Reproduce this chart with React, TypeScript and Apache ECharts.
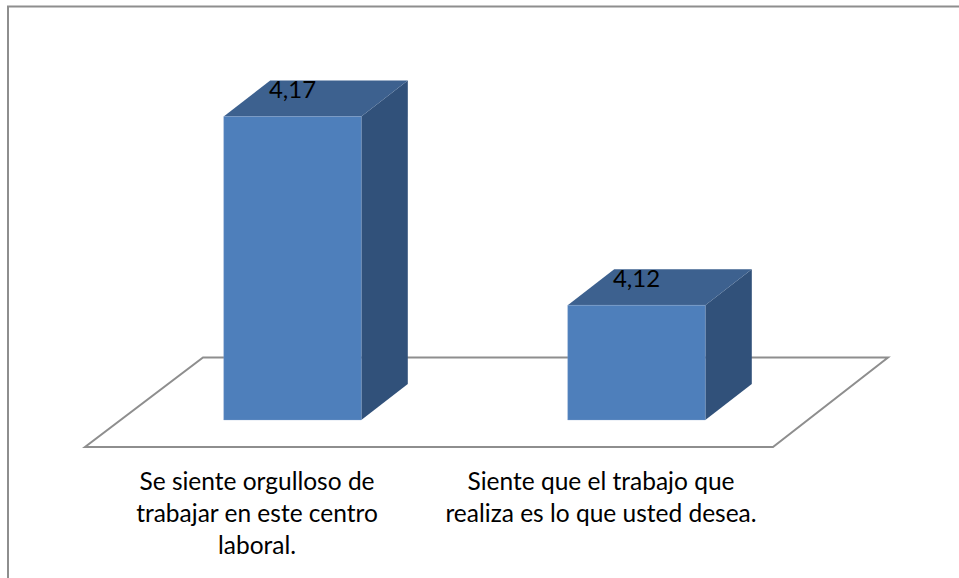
import React, { useEffect, useRef } from "react";
import * as echarts from "echarts";

const categories = [
  "Se siente orgulloso de\ntrabajar en este centro\nlaboral.",
  "Siente que el trabajo que\nrealiza es lo que usted desea.",
];
const values = [4.17, 4.12];

const FONT = "Lato, Carlito, 'Open Sans', sans-serif";

export default function App() {
  const ref = useRef<HTMLDivElement>(null);
  useEffect(() => {
    const chart = echarts.init(ref.current!, undefined, { renderer: "svg" });
    const depthX = 46.5;
    const depthY = 36;
    const shift = 35.5;
    chart.setOption({
      animation: false,
      backgroundColor: "#ffffff",
      grid: { left: 85, width: 688, top: 41, height: 379 },
      xAxis: {
        type: "category",
        data: categories,
        axisLine: { show: false },
        axisTick: { show: false },
        axisLabel: {
          interval: 0,
          margin: 44,
          color: "#000000",
          fontFamily: FONT,
          fontSize: 24.5,
          lineHeight: 32,
          align: "center",
        },
      },
      yAxis: { type: "value", min: 4.0896, max: 4.19, show: false },
      graphic: [
        {
          type: "polygon",
          z: 0,
          shape: { points: [[85, 447], [773, 447], [888, 357.5], [203, 357.5]] },
          style: { fill: "#ffffff", stroke: "#8e8e8e", lineWidth: 2 },
        },
        {
          type: "polyline",
          z: 0,
          shape: { points: [[8, 578], [8, 6.5], [959, 6.5]] },
          style: { fill: "none", stroke: "#8e8e8e", lineWidth: 2 },
        },
      ],
      series: [
        {
          type: "custom",
          z: 5,
          coordinateSystem: "cartesian2d",
          data: values.map((v, i) => [i, v]),
          clip: false,
          renderItem: (_p: any, api: any) => {
            const cat = api.value(0);
            const val = api.value(1);
            const top = api.coord([cat, val]);
            const base = api.coord([cat, 4.0896]);
            const w = api.size([1, 0])[0] * 0.4;
            const l = top[0] + shift - w / 2;
            const r = l + w;
            const t = top[1];
            const b = base[1];
            return {
              type: "group",
              children: [
                {
                  type: "polygon",
                  shape: { points: [[r, t], [r + depthX, t - depthY], [r + depthX, b - depthY], [r, b]] },
                  style: { fill: "#31517a" },
                },
                {
                  type: "polygon",
                  shape: { points: [[l, t], [l + depthX, t - depthY], [r + depthX, t - depthY], [r, t]] },
                  style: { fill: "#3d618f" },
                },
                {
                  type: "rect",
                  shape: { x: l, y: t, width: w, height: b - t },
                  style: { fill: "#4e7fbb", stroke: "rgba(140,170,210,0.3)", lineWidth: 1 },
                },
                {
                  type: "text",
                  x: l + w / 2,
                  y: t - 27.5,
                  style: {
                    text: val.toFixed(2).replace(".", ","),
                    fill: "#000000",
                    fontFamily: FONT,
                    fontSize: 24,
                    textAlign: "center",
                    textVerticalAlign: "middle",
                  },
                },
              ],
            };
          },
        },
      ],
    });
    return () => chart.dispose();
  }, []);
  return <div ref={ref} style={{ position: "fixed", left: 0, top: 0, width: 959, height: 578 }} />;
}
